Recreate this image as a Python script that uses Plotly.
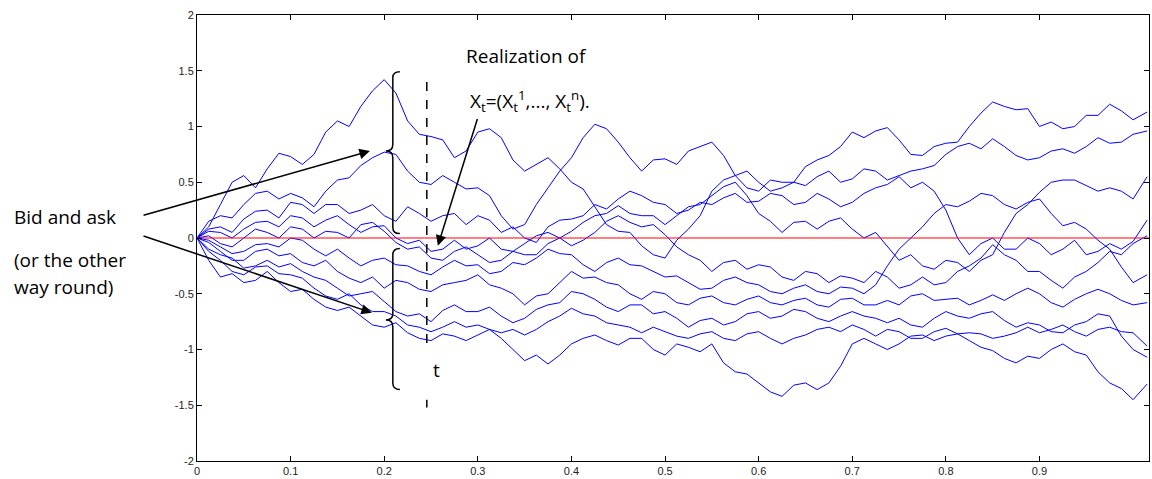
import plotly.graph_objects as go

# coarse time grid (step 0.025) plus final point
T = [i * 0.025 for i in range(41)] + [1.015]

# values read at the coarse grid
P1 = [0, 0.3, 0.56, 0.62, 0.73, 0.75, 1.05, 1.18, 1.42, 1.05, 0.91, 0.72, 0.95, 0.9, 0.6, 0.72, 0.5, 0.28, 0.06, -0.07,
      -0.18, 0.08, 0.42, 0.56, 0.42, 0.5, 0.64, 0.74, 0.95, 0.96, 0.88, 0.74, 0.85, 1.0, 1.22, 1.15, 1.0, 0.98, 1.1, 1.2,
      1.06, 1.13]
P2 = [0, 0.2, 0.3, 0.42, 0.4, 0.28, 0.52, 0.65, 0.77, 0.6, 0.48, 0.5, 0.45, 0.2, 0.12, 0.45, 0.72, 1.02, 0.86, 0.6,
      0.71, 0.78, 0.86, 0.56, 0.5, 0.45, 0.47, 0.6, 0.53, 0.6, 0.56, 0.62, 0.75, 0.85, 0.89, 0.74, 0.72, 0.8, 0.82, 0.85,
      0.93, 0.96]
P3 = [0, 0.1, 0.17, 0.25, 0.32, 0.22, 0.3, 0.25, 0.2, 0.28, 0.15, 0.22, 0.2, 0.05, 0.0, 0.1, 0.17, 0.3, 0.35, 0.38,
      0.3, 0.25, 0.3, 0.4, 0.33, 0.38, 0.32, 0.35, 0.32, 0.45, 0.55, 0.5, 0.25, -0.15, 0.0, -0.1, -0.05, -0.1, -0.15, -0.05,
      -0.03, 0.16]
P4 = [0, 0.05, 0.08, 0.15, 0.2, 0.1, 0.2, 0.05, 0.11, -0.05, -0.12, -0.02, -0.07, -0.1, -0.05, 0.05, 0.06, 0.2, 0.29, 0.2,
      0.12, 0.28, 0.38, 0.5, 0.22, 0.05, 0.15, 0.15, 0.08, 0.05, -0.2, -0.25, -0.2, -0.3, -0.15, 0.22, 0.41, 0.52, 0.47, 0.45,
      0.35, 0.55]
P5 = [0, -0.05, 0.0, 0.05, 0.1, 0.0, 0.05, 0.12, 0.06, -0.1, -0.18, -0.12, -0.15, -0.2, -0.15, -0.05, -0.07, 0.05, 0.2, 0.1,
      0.03, -0.15, -0.3, -0.2, -0.24, -0.35, -0.3, -0.4, -0.36, -0.3, -0.45, -0.35, -0.4, -0.25, -0.06, -0.2, -0.3, -0.45, -0.3, -0.12,
      -0.05, 0.02]
P6 = [0, -0.08, -0.12, -0.05, 0.0, -0.1, -0.1, -0.25, -0.18, -0.25, -0.33, -0.2, -0.24, -0.3, -0.24, -0.1, -0.15, -0.3, -0.18, -0.25,
      -0.35, -0.4, -0.45, -0.35, -0.42, -0.5, -0.42, -0.5, -0.45, -0.42, -0.1, 0.1, 0.3, 0.33, 0.38, 0.26, 0.35, 0.11, 0.08, -0.1,
      -0.4, -0.33]
P7 = [0, -0.12, -0.2, -0.1, -0.14, -0.25, -0.3, -0.4, -0.45, -0.4, -0.48, -0.4, -0.33, -0.45, -0.6, -0.5, -0.3, -0.35, -0.42, -0.55,
      -0.5, -0.6, -0.52, -0.6, -0.52, -0.6, -0.54, -0.62, -0.54, -0.6, -0.6, -0.5, -0.55, -0.6, -0.51, -0.5, -0.5, -0.62, -0.5, -0.5,
      -0.6, -0.58]
P8 = [0, -0.15, -0.27, -0.2, -0.23, -0.35, -0.45, -0.5, -0.57, -0.7, -0.75, -0.6, -0.66, -0.7, -0.72, -0.6, -0.48, -0.55, -0.66, -0.6,
      -0.66, -0.8, -0.72, -0.75, -0.66, -0.7, -0.66, -0.75, -0.66, -0.72, -0.72, -0.8, -0.66, -0.72, -0.66, -0.8, -0.78, -0.85, -0.75, -0.7,
      -1.0, -1.07]
P9 = [0, -0.2, -0.33, -0.25, -0.33, -0.45, -0.55, -0.6, -0.66, -0.78, -0.84, -0.75, -0.78, -0.85, -0.87, -0.75, -0.63, -0.7, -0.78, -0.85,
      -0.84, -0.9, -0.84, -0.92, -0.84, -0.95, -0.87, -0.8, -0.78, -0.88, -0.84, -0.9, -0.81, -0.85, -0.9, -0.85, -0.85, -0.78, -0.88, -0.8,
      -0.85, -0.97]
P10 = [0, -0.35, -0.4, -0.3, -0.48, -0.55, -0.65, -0.7, -0.8, -0.85, -0.92, -0.88, -0.87, -0.9, -1.1, -1.13, -0.95, -0.87, -0.96, -0.9,
       -1.05, -0.98, -0.95, -1.2, -1.3, -1.42, -1.3, -1.3, -0.95, -0.95, -0.95, -0.87, -0.88, -0.92, -1.01, -1.12, -1.08, -0.95, -1.05, -1.3,
       -1.45, -1.31]

# values read half-way between the coarse grid points (x = 0.0125, 0.0375, ..., 0.9875)
P1_MID = [0.1, 0.5, 0.45, 0.76, 0.66, 0.95, 1.0, 1.32, 1.3, 0.93, 0.88, 0.78, 0.98, 0.7, 0.66, 0.62, 0.44, 0.12, 0.05, -0.15,
          -0.02, 0.2, 0.52, 0.45, 0.52, 0.5, 0.7, 0.82, 0.9, 0.99, 0.75, 0.82, 0.86, 1.12, 1.18, 1.16, 1.04, 1.0, 1.1, 1.14]
P2_MID = [0.15, 0.18, 0.4, 0.35, 0.36, 0.42, 0.54, 0.72, 0.75, 0.5, 0.56, 0.44, 0.38, 0.08, 0.3, 0.6, 0.9, 0.98, 0.72, 0.7,
          0.66, 0.82, 0.74, 0.6, 0.42, 0.5, 0.55, 0.5, 0.62, 0.52, 0.6, 0.65, 0.82, 0.8, 0.82, 0.7, 0.78, 0.76, 0.9, 0.86]
P3_MID = [0.08, 0.05, 0.24, 0.18, 0.3, 0.3, 0.22, 0.3, 0.15, 0.22, 0.2, 0.12, 0.16, 0.1, -0.04, 0.16, 0.2, 0.26, 0.42, 0.32,
          0.22, 0.32, 0.36, 0.32, 0.4, 0.3, 0.4, 0.28, 0.4, 0.48, 0.45, 0.42, 0.0, -0.05, -0.1, 0.0, -0.15, -0.02, -0.12, -0.1]
P4_MID = [0.06, 0.0, 0.14, 0.1, 0.18, 0.16, 0.12, 0.1, 0.0, -0.02, -0.1, -0.1, 0.0, -0.12, 0.02, 0.0, 0.14, 0.22, 0.22, 0.2,
          0.2, 0.3, 0.46, 0.38, 0.15, 0.14, 0.08, 0.18, 0.0, -0.08, -0.15, -0.28, -0.22, -0.2, 0.05, 0.3, 0.5, 0.52, 0.42, 0.42]
P5_MID = [0.02, -0.08, 0.08, 0.0, 0.08, 0.06, 0.0, 0.14, -0.04, -0.08, -0.2, -0.08, -0.22, -0.12, -0.15, 0.0, -0.02, 0.15, 0.14, 0.12,
          -0.08, -0.2, -0.22, -0.28, -0.26, -0.38, -0.32, -0.34, -0.4, -0.35, -0.42, -0.42, -0.3, -0.18, -0.15, -0.3, -0.38, -0.35, -0.22, -0.15]
P6_MID = [-0.02, -0.14, -0.06, -0.08, -0.02, -0.16, -0.18, -0.2, -0.24, -0.3, -0.26, -0.25, -0.32, -0.22, -0.18, -0.14, -0.24, -0.22, -0.24, -0.3,
          -0.34, -0.46, -0.38, -0.4, -0.48, -0.45, -0.48, -0.44, -0.5, -0.25, 0.0, 0.22, 0.28, 0.4, 0.3, 0.32, 0.22, 0.14, -0.02, -0.26]
P7_MID = [-0.04, -0.2, -0.12, -0.16, -0.22, -0.2, -0.36, -0.35, -0.38, -0.46, -0.42, -0.38, -0.42, -0.5, -0.52, -0.4, -0.36, -0.4, -0.5, -0.48,
          -0.58, -0.54, -0.58, -0.55, -0.58, -0.56, -0.6, -0.55, -0.6, -0.56, -0.52, -0.56, -0.54, -0.56, -0.56, -0.45, -0.58, -0.55, -0.46, -0.56]
P8_MID = [-0.1, -0.18, -0.25, -0.26, -0.3, -0.38, -0.52, -0.48, -0.66, -0.68, -0.65, -0.66, -0.62, -0.76, -0.64, -0.58, -0.5, -0.62, -0.6, -0.68,
          -0.72, -0.74, -0.78, -0.68, -0.72, -0.64, -0.72, -0.7, -0.7, -0.76, -0.78, -0.72, -0.7, -0.68, -0.74, -0.76, -0.84, -0.78, -0.68, -0.88]
P9_MID = [-0.12, -0.3, -0.26, -0.32, -0.36, -0.52, -0.5, -0.66, -0.7, -0.8, -0.8, -0.8, -0.82, -0.82, -0.82, -0.7, -0.68, -0.76, -0.8, -0.8,
          -0.88, -0.86, -0.9, -0.86, -0.9, -0.9, -0.82, -0.84, -0.82, -0.82, -0.9, -0.84, -0.86, -0.86, -0.88, -0.8, -0.82, -0.84, -0.82, -0.84]
P10_MID = [-0.2, -0.32, -0.38, -0.4, -0.46, -0.62, -0.62, -0.78, -0.76, -0.9, -0.86, -0.92, -0.82, -1.0, -1.05, -1.05, -0.9, -0.92, -0.9, -1.0,
           -0.95, -1.02, -1.12, -1.22, -1.38, -1.32, -1.36, -1.15, -0.9, -1.0, -0.88, -0.92, -0.86, -0.98, -1.08, -1.06, -1.0, -1.02, -1.2, -1.35]

PATHS = [(P1, P1_MID), (P2, P2_MID), (P3, P3_MID), (P4, P4_MID), (P5, P5_MID),
         (P6, P6_MID), (P7, P7_MID), (P8, P8_MID), (P9, P9_MID), (P10, P10_MID)]

X_TICKS = [0, 0.1, 0.2, 0.3, 0.4, 0.5, 0.6, 0.7, 0.8, 0.9]
X_LABELS = ["0", "0.1", "0.2", "0.3", "0.4", "0.5", "0.6", "0.7", "0.8", "0.9"]
Y_TICKS = [-2, -1.5, -1, -0.5, 0, 0.5, 1, 1.5, 2]
Y_LABELS = ["-2", "-1.5", "-1", "-0.5", "0", "0.5", "1", "1.5", "2"]

T_MARK = 0.2455
X_MAX = 1.017


def merge(coarse, mid):
    xs, ys = [], []
    for i in range(len(mid)):
        xs += [T[i], T[i] + 0.0125]
        ys += [coarse[i], mid[i]]
    xs += T[len(mid):]
    ys += coarse[len(mid):]
    return xs, ys


fig = go.Figure()
for coarse, mid in PATHS:
    xs, ys = merge(coarse, mid)
    fig.add_trace(go.Scatter(x=xs, y=ys, mode="lines", line=dict(color="rgb(0,0,255)", width=1),
                             showlegend=False, hoverinfo="skip"))
fig.add_trace(go.Scatter(x=[0, X_MAX], y=[0, 0], mode="lines", line=dict(color="rgb(255,0,0)", width=1),
                         showlegend=False, hoverinfo="skip"))

blk = dict(color="black", width=1.5)
shapes = [
    dict(type="line", xref="x", yref="y", x0=T_MARK, x1=T_MARK, y0=1.40, y1=-1.0,
         line=dict(color="black", width=1.5, dash="dash")),
    dict(type="line", xref="x", yref="y", x0=T_MARK, x1=T_MARK, y0=-1.45, y1=-1.52,
         line=dict(color="black", width=1.5)),
    dict(type="path", xref="x", yref="y", line=blk,
         path="M 0.2167,1.492 Q 0.2092,1.492 0.2092,1.44 L 0.2092,0.84 Q 0.2092,0.78 0.2018,0.78 "
              "Q 0.2092,0.78 0.2092,0.72 L 0.2092,0.095 Q 0.2092,0.04 0.2167,0.04"),
    dict(type="path", xref="x", yref="y", line=blk,
         path="M 0.2167,-0.094 Q 0.2092,-0.094 0.2092,-0.15 L 0.2092,-0.675 Q 0.2092,-0.735 0.2018,-0.735 "
              "Q 0.2092,-0.735 0.2092,-0.795 L 0.2092,-1.30 Q 0.2092,-1.359 0.2167,-1.359"),
]

tf = dict(family="Open Sans", size=19, color="black")
LEFT_TEXT_X = (12 - 197) / 953
annotations = [
    dict(x=0.1847, y=0.78, ax=-0.0587, ay=0.20, xref="x", yref="y", axref="x", ayref="y",
         text="", showarrow=True, arrowhead=2, arrowsize=1.4, arrowwidth=1.5, arrowcolor="black"),
    dict(x=0.1868, y=-0.67, ax=-0.0587, ay=0.022, xref="x", yref="y", axref="x", ayref="y",
         text="", showarrow=True, arrowhead=2, arrowsize=1.4, arrowwidth=1.5, arrowcolor="black"),
    dict(x=0.2573, y=-0.07, ax=0.300, ay=1.08, xref="x", yref="y", axref="x", ayref="y",
         text="", showarrow=True, arrowhead=2, arrowsize=1.4, arrowwidth=1.5, arrowcolor="black"),
    dict(x=LEFT_TEXT_X, y=0.19, xref="paper", yref="y", text="Bid and ask", showarrow=False,
         xanchor="left", yanchor="middle", font=tf),
    dict(x=LEFT_TEXT_X, y=-0.20, xref="paper", yref="y", text="(or the other", showarrow=False,
         xanchor="left", yanchor="middle", font=tf),
    dict(x=LEFT_TEXT_X, y=-0.44, xref="paper", yref="y", text="way round)", showarrow=False,
         xanchor="left", yanchor="middle", font=tf),
    dict(x=0.285, y=1.63, xref="x", yref="y", text="Realization of", showarrow=False,
         xanchor="left", yanchor="middle", font=tf),
    dict(x=0.290, y=1.23, xref="x", yref="y",
         text="X<sub>t</sub>=(X<sub>t</sub><sup>1</sup>,..., X<sub>t</sub><sup>n</sup>).",
         showarrow=False, xanchor="left", yanchor="middle", font=tf),
    dict(x=0.2562, y=-1.18, xref="x", yref="y", text="t", showarrow=False,
         xanchor="center", yanchor="middle", font=tf),
]

axis_common = dict(showgrid=False, zeroline=False, showline=True, linecolor="black", linewidth=1,
                   mirror="ticks", ticks="inside", ticklen=5, tickcolor="black",
                   tickfont=dict(family="Liberation Sans", size=11, color="#222"))

fig.update_layout(
    width=1152, height=479,
    margin=dict(l=197, r=2, t=15, b=15),
    paper_bgcolor="white", plot_bgcolor="white",
    xaxis=dict(range=[0, X_MAX], tickvals=X_TICKS, ticktext=X_LABELS, **axis_common),
    yaxis=dict(range=[-2, 2], tickvals=Y_TICKS, ticktext=Y_LABELS, **axis_common),
    shapes=shapes, annotations=annotations,
)

fig.write_html("out.html", config={"displayModeBar": False},
               post_script="document.body.style.margin='0';document.body.style.overflow='hidden';")
